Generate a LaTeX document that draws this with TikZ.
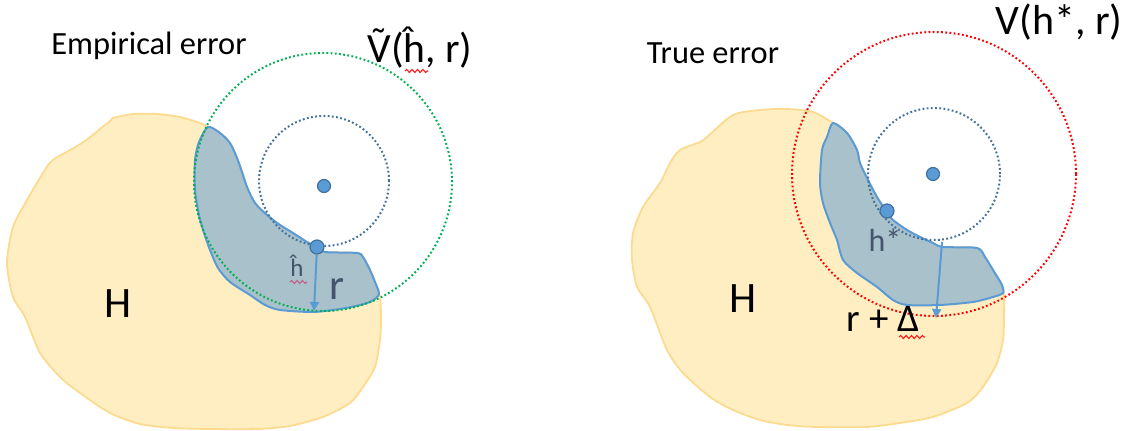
\documentclass[tikz,border=0pt]{standalone}
\usepackage{fontspec}
\setmainfont{Carlito}
\usepackage{xcolor}
\usepackage{tikz}
\usetikzlibrary{arrows.meta, positioning, decorations.pathmorphing}

\definecolor{hfill}{HTML}{FFEEC2}
\definecolor{hline}{HTML}{FCDB90}
\definecolor{vfill}{HTML}{A9C1CA}
\definecolor{vline}{HTML}{5B9BD5}
\definecolor{ballline}{HTML}{41719C}
\definecolor{ptext}{HTML}{44546A}
\definecolor{greenring}{HTML}{00B050}
\definecolor{redring}{HTML}{FF0000}
\definecolor{spellred}{HTML}{FF1A1A}
\definecolor{spellpink}{HTML}{C0608A}

\begin{document}
\begin{tikzpicture}[
    x=0.5pt, y=-0.5pt,
    hset/.style    = {fill=hfill, draw=hline, line width=0.9pt},
    vregion/.style = {fill=vfill, draw=vline, line width=1pt},
    ring/.style    = {draw=#1, line width=1pt, dash pattern=on 0.9pt off 1.2pt},
    ball/.style    = {circle, fill=vline, draw=ballline, line width=0.6pt,
                      inner sep=0pt, minimum size=#1},
    ball/.default  = 6.5pt,
    arrow/.style   = {-{Triangle[length=4.5pt, width=4.5pt]}, draw=vline,
                      line width=1pt},
    title/.style   = {anchor=base, inner sep=0pt,
                      font=\fontsize{16.2}{18}\selectfont},
    vname/.style   = {anchor=base, inner sep=0pt,
                      font=\fontsize{20.8}{24}\selectfont},
    setname/.style = {anchor=base, inner sep=0pt,
                      font=\fontsize{21.7}{25}\selectfont},
    plabel/.style  = {anchor=base, inner sep=0pt, text=ptext},
    wavy/.style    = {draw=#1, line width=0.55pt, decorate,
                      decoration={snake, amplitude=0.75pt, segment length=2.7pt}}
]
\useasboundingbox (0,0) rectangle (1129,431);

% ========= empirical error (left) =========
\path[hset] plot[smooth cycle, tension=0.45] coordinates {
    (113,118) (133,114) (157,114) (180,117) (200,123) (208,127)
    (220,133) (230,143) (237,158) (242,172) (247,187) (255,203) (267,215)
    (280,225) (293,233) (307,242) (317,247) (325,252) (357,253) (363,257)
    (370,270) (375,282) (380,296) (381,320) (380,340) (375,367) (363,387)
    (350,403) (323,417) (290,426) (257,429) (210,429) (173,428) (140,424)
    (110,413) (80,393) (60,377) (40,353) (25,317) (13,297) (7,263) (13,227)
    (27,200) (43,173) (53,160) (82,143) (110,121)};
\path[vregion] plot[smooth cycle, tension=0.45] coordinates {
    (208,127) (220,133) (230,143) (237,158) (242,172) (247,187) (255,203)
    (267,215) (280,225) (293,233) (307,242) (317,247) (325,252) (357,253)
    (363,257) (370,270) (375,282) (379,294) (372,301) (360,305) (340,309)
    (313,312) (280,310) (265,305) (250,295) (230,282) (218,268) (210,250)
    (204,233) (199,215) (195,190) (195,160) (199,142)};

\draw[ring=greenring] (323,182) circle[radius=64.5pt];
\draw[ring=ballline]  (324,181) circle[radius=32.5pt];

\node[ball]       (lcentre) at (324,186) {};
\node[ball=7pt]   (hhat)    at (317,247) {};
\coordinate (ltip) at (314,311);
\draw[arrow] (hhat) -- (ltip);

\node[title] (emp) at (149,55) {Empirical error};
\node[vname] (vtilde) at (420,63) {{\accent"02DC V}(\^{h}, r)};
\node[setname] (lH) at (118,318) {H};
\node[plabel, font=\fontsize{12.5}{14}\selectfont] (lhhat) at (297,277) {\^{h}};
\node[plabel, font=\fontsize{21.5}{25}\selectfont] (lr) at (337,300) {r};
\draw[wavy=spellred]  (405,71) -- (428,71);
\draw[wavy=spellpink] (290,282) -- (307,282);

% ========= true error (right) =========
\path[hset] plot[smooth cycle, tension=0.45] coordinates {
    (733,115) (760,110) (787,109) (813,112) (833,123)
    (847,133) (857,150) (860,163) (868,180) (877,197) (886,211) (893,220)
    (907,230) (920,237) (933,243) (943,247) (977,248) (985,257) (993,270)
    (1002,285) (1004,296) (1004,320) (1003,340) (997,363) (983,387)
    (967,403) (933,417) (900,423) (867,427) (817,427) (787,425) (760,420)
    (733,410) (710,397) (683,373) (667,350) (650,307) (637,287) (632,260)
    (633,233) (643,207) (660,183) (670,163) (680,150) (700,142) (707,137)};
\path[vregion] plot[smooth cycle, tension=0.45] coordinates {
    (833,123) (847,133) (857,150) (860,163) (868,180) (877,197) (886,211)
    (893,220) (907,230) (920,237) (933,243) (943,247) (977,248) (985,257)
    (993,270) (1002,285) (1003,293) (993,297) (973,302) (940,305) (907,305)
    (893,300) (877,287) (857,273) (843,260) (837,240) (830,223) (823,203)
    (820,183) (822,150) (827,137)};

\draw[ring=redring]  (934,174) circle[radius=71pt];
\draw[ring=ballline] (934,174) circle[radius=33pt];

\node[ball]     (rcentre) at (933,174) {};
\node[ball=7pt] (hstar)   at (887,211) {};
\coordinate (rtop) at (942,242);
\coordinate (rtip) at (936,318);
\draw[arrow] (rtop) -- (rtip);

\node[title] (true) at (713,64) {True error};
\node[vname, font=\fontsize{21}{24}\selectfont] (vstar) at (1059,35) {V(h*, r)};
\node[setname] (rH) at (743,313) {H};
\node[plabel, font=\fontsize{16}{19}\selectfont] (lhstar) at (885,252) {h*};
\node[anchor=base, inner sep=0pt, font=\fontsize{19.5}{23}\selectfont] (rdelta) at (883,332) {r + Δ};
\draw[wavy=spellred] (899,337) -- (925,337);

\end{tikzpicture}
\end{document}
